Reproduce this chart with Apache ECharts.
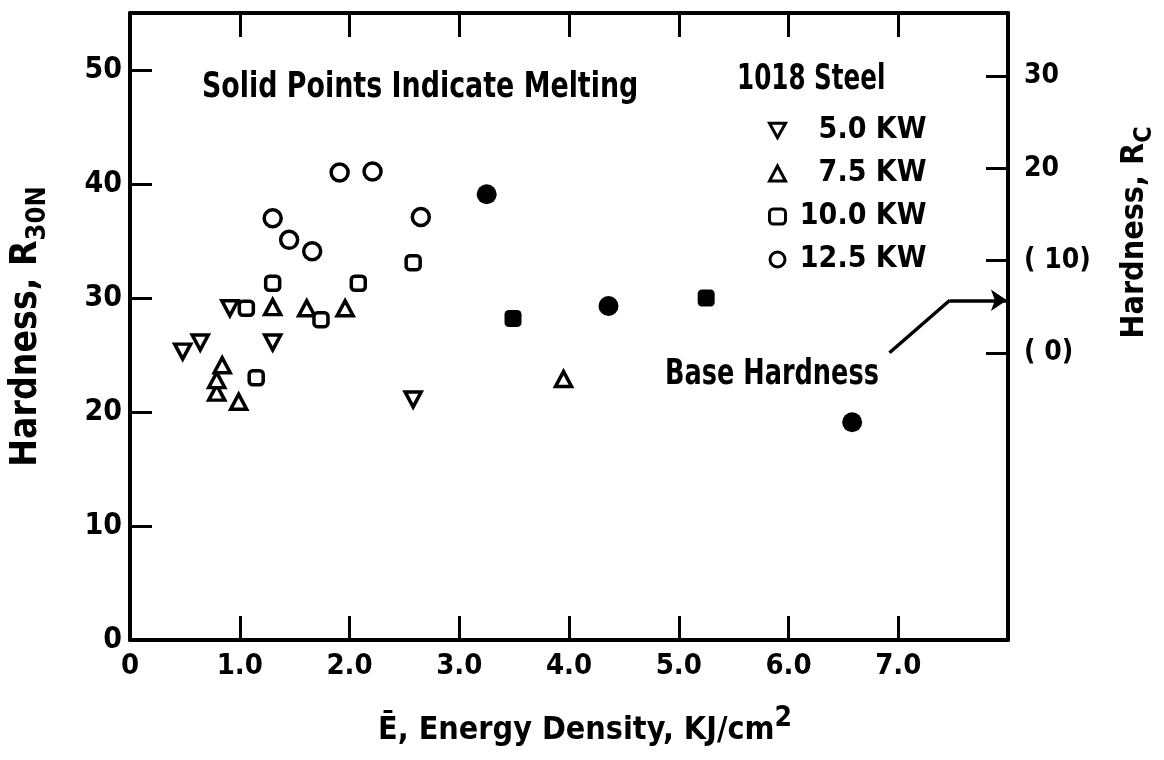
<!DOCTYPE html>
<html>
<head>
<meta charset="utf-8">
<script src="https://cdn.jsdelivr.net/npm/echarts@6/dist/echarts.min.js"></script>
<style>html,body{margin:0;padding:0;background:#fff}#chart{width:1164px;height:760px}</style>
</head>
<body>
<div id="chart"></div>
<script>
// ---- data ----
const kw50 = [[0.48,25.3],[0.64,26.1],[0.91,29.1],[1.30,26.1],[2.58,21.1]];
const kw75 = [[0.79,21.7],[0.79,22.8],[0.84,24.1],[0.99,20.9],[1.30,29.2],[1.61,29.1],[1.96,29.1],[3.95,22.9]];
const kw100 = [[1.06,29.1],[1.15,23.0],[1.30,31.3],[1.74,28.1],[2.08,31.3],[2.58,33.1]];
const kw125 = [[1.30,37.0],[1.45,35.1],[1.66,34.1],[1.91,41.0],[2.21,41.1],[2.65,37.1]];
const kw100Melt = [[3.49,28.2],[5.25,30.0]];
const kw125Melt = [[3.25,39.1],[4.36,29.3],[6.58,19.1]];
const seriesNames = ['5.0 KW','7.5 KW','10.0 KW','12.5 KW'];
const xTickLabels = ['0','1.0','2.0','3.0','4.0','5.0','6.0','7.0',''];
const leftTickLabels = ['0','10','20','30','40','50'];
const rcTickValues = [0,10,20,30];
const rcTickLabels = ['( 0)','( 10)','20','30'];
const baseHardnessArrow = [[6.92,25.2],[7.47,29.8],[7.99,29.8]];

const FONT = "'Liberation Sans Narrow','DejaVu Sans Condensed','DejaVu Sans',sans-serif";
const AX = {color:'#000', width:4};
const hollow = {color:'#fff', borderColor:'#000', borderWidth:3.5, opacity:1};
const solid = {color:'#000', borderColor:'#000', borderWidth:0, opacity:1};
const txt = (extra) => Object.assign({fontFamily:FONT, fontWeight:'bold', color:'#000'}, extra||{});

const chart = echarts.init(document.getElementById('chart'));

chart.setOption({
  animation:false,
  backgroundColor:'#fff',
  grid:{left:130, right:156, top:13, bottom:120, outerBoundsMode:'none', containLabel:false},
  xAxis:[{
    type:'value', min:0, max:8, interval:1, position:'bottom',
    axisLine:{show:true, onZero:false, lineStyle:AX},
    axisTick:{show:true, inside:true, length:24, lineStyle:{color:'#000',width:3}},
    splitLine:{show:false},
    axisLabel:txt({fontSize:29, margin:12, showMaxLabel:true, formatter:(v)=>xTickLabels[Math.round(v)]}),
    name:'{a|Ē, Energy Density, KJ/cm}{s|2}',
    nameLocation:'middle', nameGap:65,
    nameTextStyle:txt({fontSize:32, padding:[0,0,0,32], rich:{
      a:txt({fontSize:32}),
      s:txt({fontSize:28, padding:[0,0,24,0]})
    }})
  },{
    type:'value', min:0, max:8, interval:1, position:'top',
    axisLine:{show:true, onZero:false, lineStyle:AX},
    axisTick:{show:true, inside:true, length:24, lineStyle:{color:'#000',width:3}},
    axisLabel:{show:false}, splitLine:{show:false}
  }],
  yAxis:[{
    type:'value', min:0, max:55, interval:10, position:'left',
    axisLine:{show:true, onZero:false, lineStyle:AX},
    axisTick:{show:true, inside:true, length:22, lineStyle:{color:'#000',width:3}},
    splitLine:{show:false},
    axisLabel:txt({fontSize:30, margin:8, formatter:(v)=>leftTickLabels[v/10]}),
    name:'{a|Hardness, R}{s|30N}',
    nameLocation:'middle', nameGap:79, nameRotate:90,
    nameTextStyle:txt({fontSize:37, rich:{
      a:txt({fontSize:37}),
      s:txt({fontSize:27, padding:[22,0,0,0]})
    }})
  },{
    type:'value', min:-31.08, max:36.82, position:'right',
    axisLine:{show:true, onZero:false, lineStyle:AX},
    axisTick:{show:true, inside:true, length:22, customValues:rcTickValues, lineStyle:{color:'#000',width:3}},
    splitLine:{show:false},
    axisLabel:txt({fontSize:28, margin:16, customValues:rcTickValues,
      formatter:(v)=>rcTickLabels[rcTickValues.indexOf(Math.round(v))]}),
    name:'{a|Hardness, R}{s|C}',
    nameLocation:'middle', nameGap:104, nameRotate:90,
    nameTextStyle:txt({fontSize:32, padding:[0,0,0,188], rich:{
      a:txt({fontSize:32}),
      s:txt({fontSize:25, padding:[20,0,0,0]})
    }})
  }],
  legend:{
    data:seriesNames, orient:'vertical', left:763, top:104,
    itemWidth:16, itemHeight:15, itemGap:0,
    itemStyle:{color:'#fff', borderColor:'#000', borderWidth:3},
    formatter:(n)=>'{t|'+n+'}',
    textStyle:txt({fontSize:30, lineHeight:43, rich:{t:txt({fontSize:30, width:136, align:'right'})}})
  },
  graphic:[
    {type:'text', x:202, y:88, scaleX:0.83, style:{text:'Solid Points Indicate Melting', fill:'#000', font:'bold 36px '+FONT, textVerticalAlign:'middle'}},
    {type:'text', x:737, y:80, scaleX:0.76, style:{text:'1018 Steel', fill:'#000', font:'bold 36px '+FONT, textVerticalAlign:'middle'}},
    {type:'text', x:665, y:375, scaleX:0.79, style:{text:'Base Hardness', fill:'#000', font:'bold 36px '+FONT, textVerticalAlign:'middle'}}
  ],
  series:[
    {name:seriesNames[0], type:'scatter', data:kw50, symbol:'path://M0,0 L20,0 L10,18 Z', symbolSize:[16,15], itemStyle:hollow},
    {name:seriesNames[1], type:'scatter', data:kw75, symbol:'triangle', symbolSize:[16,15], itemStyle:hollow},
    {name:seriesNames[2], type:'scatter', data:kw100, symbol:'roundRect', symbolSize:14, itemStyle:hollow},
    {name:seriesNames[3], type:'scatter', data:kw125, symbol:'circle', symbolSize:17, itemStyle:hollow},
    {name:'10.0 KW melting', type:'scatter', data:kw100Melt, symbol:'roundRect', symbolSize:17, itemStyle:solid,
      markLine:{silent:true, animation:false, symbol:['none','none'],
        lineStyle:{color:'#000', width:3.5, type:'solid', opacity:1}, label:{show:false},
        data:[[{coord:baseHardnessArrow[0]},{coord:baseHardnessArrow[1]}]]}
    },
    {name:'12.5 KW melting', type:'scatter', data:kw125Melt, symbol:'circle', symbolSize:20, itemStyle:solid,
      markLine:{silent:true, animation:false, symbol:['none','arrow'], symbolSize:16,
        lineStyle:{color:'#000', width:3.5, type:'solid', opacity:1}, itemStyle:{color:'#000'}, label:{show:false},
        data:[[{coord:baseHardnessArrow[1]},{coord:baseHardnessArrow[2]}]]}
    }
  ]
});
</script>
</body>
</html>
